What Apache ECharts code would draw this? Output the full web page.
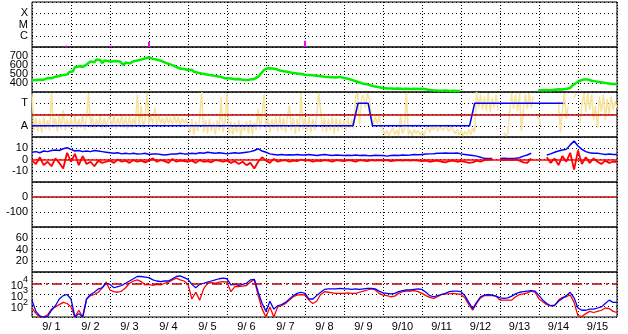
<!DOCTYPE html>
<html><head><meta charset="utf-8">
<script src="https://cdn.jsdelivr.net/npm/echarts@6/dist/echarts.min.js"></script>
<style>html,body{margin:0;padding:0;background:#fff}#c{width:628px;height:334px}</style>
</head><body><div id="c"></div><script>
// ---------- DATA (time in days from 9/1 00:00) ----------
const dayLabels = ['9/ 1','9/ 2','9/ 3','9/ 4','9/ 5','9/ 6','9/ 7','9/ 8','9/ 9','9/10','9/11','9/12','9/13','9/14','9/15'];
const flareLevelLabels = ['', 'C', 'M', 'X', ''];
const sectorLabels = ['', 'A', '', 'T', ''];
const speedLabels = [400, 500, 600, 700];
const bLabels = [10, 0, -10];
const dstLabels = [0, -100];
const kpLabels = [20, 40, 60];
const fluxExpLabels = [2, 3, 4];

const flares = [[0.88,0.12],[2.02,0.12],[3.0,0.45],[7.0,0.56]];

const speed = [
[0.00,430],[0.05,425],[0.10,432],[0.15,428],[0.20,435],[0.25,440],[0.30,437],[0.35,445],[0.40,455],[0.45,458],
[0.50,452],[0.55,462],[0.60,470],[0.65,465],[0.70,478],[0.75,470],[0.80,490],[0.85,500],[0.90,495],[0.95,520],
[1.00,540],[1.05,530],[1.10,575],[1.15,595],[1.20,585],[1.25,600],[1.30,580],[1.35,590],[1.40,605],[1.45,620],
[1.50,640],[1.55,655],[1.60,630],[1.65,660],[1.70,640],[1.75,655],[1.80,620],[1.85,650],[1.90,640],[1.95,645],
[2.00,635],[2.05,640],[2.10,632],[2.15,645],[2.20,625],[2.25,640],[2.30,630],[2.35,600],[2.40,628],[2.45,620],
[2.50,618],[2.55,630],[2.60,640],[2.65,645],[2.70,650],[2.75,655],[2.80,660],[2.85,668],[2.90,672],[2.95,680],
[3.00,684],[3.05,675],[3.10,668],[3.15,665],[3.20,660],[3.25,655],[3.30,648],[3.35,640],[3.40,630],[3.45,622],
[3.50,612],[3.55,605],[3.60,598],[3.65,590],[3.70,578],[3.75,570],[3.80,560],[3.85,575],[3.90,555],[3.95,548],
[4.00,544],[4.05,538],[4.10,548],[4.15,525],[4.20,520],[4.25,515],[4.30,510],[4.35,505],[4.40,500],[4.45,498],
[4.50,495],[4.55,490],[4.60,488],[4.65,482],[4.70,478],[4.75,476],[4.80,470],[4.85,468],[4.90,460],[4.95,452],
[5.00,458],[5.10,450],[5.20,442],[5.30,445],[5.40,435],[5.50,432],[5.60,438],[5.70,445],[5.75,452],[5.80,470],
[5.85,490],[5.90,520],[5.95,545],[6.00,560],[6.05,565],[6.10,558],[6.15,560],[6.20,552],[6.25,555],[6.30,545],
[6.35,540],[6.40,535],[6.50,528],[6.60,520],[6.70,510],[6.80,505],[6.90,500],[7.00,492],[7.10,490],[7.20,485],
[7.30,480],[7.40,475],[7.50,470],[7.60,468],[7.70,465],[7.80,462],[7.90,468],[8.00,455],[8.10,448],[8.20,435],
[8.30,420],[8.40,405],[8.50,392],[8.60,385],[8.70,372],[8.80,360],[8.90,352],[9.00,345],[9.10,340],[9.20,338],
[9.30,335],[9.40,340],[9.50,333],[9.60,335],[9.70,332],[9.80,336],[9.90,334],[10.00,335],[10.10,330],[10.20,322],
[10.30,318],[10.40,316],[10.50,315],[10.60,318],[10.70,312],[10.80,314],[10.90,312],[10.98,313],[11.5,null],
[12.98,318],[13.00,325],[13.05,320],[13.10,318],[13.20,322],[13.30,320],[13.40,325],[13.50,330],[13.60,328],
[13.70,335],[13.80,345],[13.85,370],[13.90,385],[13.95,400],[14.00,415],[14.05,425],[14.10,430],[14.15,440],
[14.20,445],[14.25,440],[14.30,430],[14.35,425],[14.40,420],[14.45,418],[14.50,415],[14.55,410],[14.60,405],
[14.70,400],[14.80,395],[14.90,390],[15.00,388]];

const sectorStep = 0.05;
const sectorNoise = [
3.8,0.6,1.7,0.5,1.6,0.4,1.8,0.7,1.5,0.6,3.9,0.8,1.7,0.5,1.9,0.7,2.4,0.6,1.6,0.8,
1.7,0.6,1.9,0.7,1.6,0.8,2.0,0.6,1.7,3.9,0.8,1.8,0.7,1.6,0.9,1.9,0.7,1.7,0.8,1.6,
1.8,0.8,1.9,0.7,1.7,0.9,2.0,0.8,1.8,0.7,1.9,0.8,1.7,0.9,3.8,1.0,2.8,0.8,1.7,3.9,
1.1,1.8,1.2,2.6,1.1,1.9,1.2,1.7,1.0,1.8,1.2,1.7,1.1,1.9,1.2,1.8,1.0,1.7,1.2,1.6,
1.5,0.4,1.6,0.2,1.4,0.5,1.7,4.0,0.4,1.5,0.3,1.6,0.5,1.3,0.2,1.5,0.6,3.5,0.4,1.4,
3.9,0.3,1.4,0.2,1.3,0.4,1.5,0.1,1.2,0.5,1.4,0.3,1.5,0.2,1.3,0.6,2.5,0.7,1.9,3.8,
0.6,1.7,0.4,1.6,0.7,1.8,0.5,1.9,0.6,1.7,0.4,1.8,2.8,0.6,1.7,0.3,1.6,0.5,3.9,0.7,
1.7,0.5,1.8,0.4,1.6,0.6,1.9,3.9,2.4,0.5,1.7,0.4,1.6,0.6,1.8,0.3,1.7,0.5,1.6,0.7,
1.5,0.6,1.7,0.8,1.6,0.7,3.6,3.9,1.0,3.5,3.7,2.6,3.9,3.4,1.9,1.0,1.8,1.2,1.9,1.0,
0.7,0.2,0.6,0.1,0.5,0.8,0.2,0.6,0.1,2.0,0.3,0.7,3.9,0.2,0.6,0.1,0.7,0.3,0.6,0.2,
0.5,0.1,0.7,0.9,0.4,1.0,0.6,1.1,0.5,0.9,1.0,0.6,1.1,0.7,0.5,1.0,0.6,0.3,0.7,0.2,
0.6,0.1,0.5,0.2,0.7,0.2,0.8,0.4,4.0,2.6,3.8,2.4,3.6,2.3,3.9,2.2,3.5,2.6,3.8,2.4,
null,null,0.4,0.1,0.3,2.4,3.9,2.5,3.8,2.3,3.9,0.5,2.4,3.8,2.5,3.9,2.6,3.6,null,1.8,
1.6,1.0,null,null,null,null,null,null,null,null,3.2,0.4,2.5,3.9,1.6,2.8,null,null,3.5,3.9,
null,1.2,3.0,3.9,2.2,3.9,2.4,3.8,1.5,2.8,0.8,3.6,2.2,3.8,1.5,3.4,2.0,3.6,2.4,3.2,
2.6];
const sectorLevel = [[0,1],[8.23,1],[8.36,3],[8.62,3],[8.73,1],[11.22,1],[11.35,3],[13.62,3]];
const sectorRef = 2;

const bStep = 0.1;
const bt = [
6.5,7.0,6.0,7.5,7.0,8.0,8.5,8.0,9.5,10.5,
9.0,7.5,8.0,7.0,7.5,7.0,8.0,7.5,7.0,6.5,
6.0,5.5,6.0,5.0,5.5,5.0,5.5,4.8,5.0,5.5,
4.5,4.8,5.0,4.5,4.0,4.5,5.0,4.8,5.5,5.0,
5.0,5.5,5.2,6.0,5.5,6.5,6.0,5.5,6.0,5.5,
5.0,5.5,6.0,5.5,6.0,6.5,7.0,8.0,9.5,7.5,
6.5,5.0,4.5,4.0,4.5,4.0,4.2,4.0,4.5,4.0,
4.0,4.5,4.0,3.5,4.0,4.5,4.0,3.5,4.0,3.8,
3.5,3.8,3.5,4.0,3.5,3.8,3.5,3.4,3.8,3.5,
3.5,3.0,3.5,3.8,3.5,4.0,3.8,4.0,4.5,4.2,
4.5,4.8,5.0,5.2,5.5,5.5,5.8,5.5,5.5,5.8,
5.0,4.5,4.0,3.5,3.0,2.0,1.0,0.8,1.0,null,
1.0,1.2,0.8,1.0,1.2,1.5,3.0,4.0,5.5,null,
null,null,4.0,5.0,6.5,7.5,8.5,9.0,13.0,16.5,
12.0,9.0,7.0,6.0,5.5,5.5,5.0,4.5,4.8,4.5,
4.5];
const bz = [
-1,-4,2,-5,-2,-6,1,-3,-8,6,
-2,5,-5,3,-4,-2,-6,-1,-3,-2,
-1,-3,0,-2,-1,-3,-0.5,-2,-1,-2.5,
-1,1,-2,-0.5,-1.5,-3,0.5,-2,-1,-1.5,
-2,-1,-3,-0.5,-2,-1.5,-2.5,-0.5,-1,-2,
-1,-3,-1.5,-4,-2,-5,-3,-8,-2,2,
-1,-3,0.5,-2,-1,-0.5,-2,-1,-1.5,0,
-1,-0.5,-2,-1,-1.5,-0.5,-1,-2,-0.5,-1,
-1.5,-0.5,-1,-2,-0.5,-1,-1.5,-0.5,-1,-0.5,
-1,-0.5,-1.5,-1,-0.5,-1,-0.5,-1,-0.5,-1,
-1.5,-1,-2,-1.5,-1,-2,-2.5,-1.5,-1,-2,
-1.5,-2,-3,-2.5,-1,-2,-0.5,0,0,null,
0,-0.5,0,-0.5,0,-1,-2.5,-3,1,null,
null,null,2,-3,1,-5,3,-2,6,-9,
8,-4,2,-3,1,-2,-4,-1,-3,-2,
-2];
const dstRef = 0;

const fluxStep = 0.1; // values are log10 of flux
const fluxBlue = [
2.5,1.5,1.1,1.0,1.05,1.6,2.0,2.6,2.9,3.0,
2.6,1.0,1.3,1.0,2.6,3.0,3.2,3.5,3.6,4.0,
3.9,3.6,3.7,3.8,4.0,4.2,4.4,4.6,4.6,4.55,
4.5,4.3,4.2,4.15,4.2,4.2,4.4,4.6,4.65,4.5,
4.35,3.9,3.6,3.9,4.0,4.1,4.2,4.3,4.4,4.45,
4.4,3.85,3.9,3.8,3.9,4.0,4.3,4.35,3.2,2.2,
1.5,2.4,1.7,2.0,2.1,2.3,2.6,2.9,3.1,3.2,
3.1,2.6,2.6,2.9,3.2,3.45,3.5,3.5,3.5,3.55,
3.5,3.5,3.45,3.5,3.45,3.5,3.55,3.55,3.5,3.3,
3.15,3.1,3.05,3.1,3.25,3.35,3.4,3.4,3.45,3.5,
3.45,3.2,2.9,2.8,2.9,3.0,3.1,3.25,3.3,3.3,
3.25,2.9,2.3,1.75,2.3,2.8,2.95,3.0,2.95,2.85,
2.7,2.65,2.7,2.85,3.05,3.2,3.25,3.3,3.35,3.3,
2.9,2.5,2.2,2.0,2.05,2.4,2.65,2.9,3.2,2.7,
1.8,1.6,1.6,1.7,1.7,1.8,1.9,2.2,2.5,2.3,
2.3];
const fluxRed = [
1.8,1.3,1.0,1.0,1.2,1.7,1.9,2.1,2.3,2.2,
1.9,1.0,1.6,1.0,2.6,2.9,3.0,3.2,3.6,4.1,
3.4,3.25,3.2,3.3,3.6,4.0,4.2,4.3,4.15,3.85,
3.9,3.8,3.9,3.85,4.0,4.1,4.3,4.45,4.3,4.2,
3.9,2.6,3.2,2.5,3.5,4.0,4.05,4.0,4.1,4.15,
4.1,3.25,3.7,3.7,3.75,3.8,4.1,4.35,2.9,1.7,
1.0,1.9,1.0,1.9,2.0,2.2,2.5,2.8,2.95,3.0,
2.95,2.5,2.2,2.4,3.0,3.25,3.2,3.15,3.1,3.1,
3.1,3.15,3.1,3.1,3.2,3.3,3.4,3.5,3.4,3.1,
2.95,2.9,2.8,2.85,3.1,3.25,3.3,3.3,3.35,3.25,
3.1,2.9,2.75,2.65,2.8,3.0,3.05,3.05,3.1,3.05,
3.0,2.7,2.1,1.6,2.2,2.7,2.9,2.9,2.9,2.85,
2.5,2.5,2.5,2.5,2.8,3.0,3.05,3.15,3.3,3.2,
2.6,2.35,2.1,2.0,2.0,2.5,2.75,2.8,2.96,2.3,
1.1,1.05,1.3,1.5,1.4,1.5,1.6,1.8,1.75,1.5,
1.4];
const fluxRef = 4;

// ---------- LAYOUT ----------
const LEFT = 32, RIGHT = 11, TOP0 = 2, PH = 45, NP = 7;
const FONT = '"Liberation Sans", Arial, sans-serif';
const series = (arr, step) => arr.map((v, i) => [i * step, v]);

const grids = [];
const xAxes = [];
for (let i = 0; i < NP; i++) {
  grids.push({left: LEFT, right: RIGHT, top: TOP0 + PH * i, height: PH, show: true,
    borderColor: '#000', borderWidth: 1, backgroundColor: 'transparent'});
  xAxes.push({type: 'value', gridIndex: i, min: 0, max: 15, interval: 1, position: 'bottom',
    axisLine: {show: false}, axisTick: {show: false}, axisLabel: {show: false},
    splitLine: {show: true, lineStyle: {color: '#000', type: [1, 2], width: 1}}});
}
xAxes.push({type: 'category', gridIndex: NP - 1, data: dayLabels, boundaryGap: true, position: 'bottom',
  axisLine: {show: false}, axisTick: {show: false}, splitLine: {show: false},
  axisLabel: {interval: 0, margin: 4, fontSize: 11, color: '#000', fontFamily: FONT}});

const dotH = {show: true, lineStyle: {color: '#000', type: [1, 3], width: 1}};
function yAx(i, min, max, interval, fmt, extra) {
  return Object.assign({type: 'value', gridIndex: i, min, max, interval,
    axisLine: {show: false}, axisTick: {show: false}, splitLine: dotH,
    axisLabel: {fontSize: 11, color: '#000', margin: 4, fontFamily: FONT, formatter: fmt,
      showMinLabel: true, showMaxLabel: true}}, extra || {});
}
const yAxes = [
  yAx(0, 0, 4, 1, v => flareLevelLabels[v] || ''),
  yAx(1, 300, 800, 100, v => speedLabels.includes(v) ? String(v) : ''),
  yAx(2, 0, 4, 1, v => sectorLabels[v] || ''),
  yAx(3, -20, 20, 10, v => bLabels.includes(v) ? String(v) : ''),
  yAx(4, -200, 100, 100, v => dstLabels.includes(v) ? String(v) : ''),
  yAx(5, 0, 80, 20, v => kpLabels.includes(v) ? String(v) : ''),
  yAx(6, 1, 5, 1, v => fluxExpLabels.includes(v) ? '{b|10}{s|' + v + '}' : '')
];
yAxes[6].axisLabel.rich = {
  b: {fontSize: 11, color: '#000', fontFamily: FONT, verticalAlign: 'bottom', lineHeight: 16},
  s: {fontSize: 9, color: '#000', fontFamily: FONT, verticalAlign: 'top', lineHeight: 16}
};

const ref = (y, color, width, type) => ({silent: true, symbol: 'none', label: {show: false},
  lineStyle: {color, width, type: type || 'solid'}, data: [{yAxis: y}]});

const option = {
  animation: false,
  backgroundColor: '#fff',
  grid: grids, xAxis: xAxes, yAxis: yAxes,
  series: [
    {type: 'bar', xAxisIndex: 0, yAxisIndex: 0, data: flares, barWidth: 2,
      itemStyle: {color: '#ff00ff'}},
    {type: 'line', xAxisIndex: 1, yAxisIndex: 1, data: speed, showSymbol: false,
      lineStyle: {color: '#00ee00', width: 2.5}, connectNulls: false},
    {type: 'line', xAxisIndex: 2, yAxisIndex: 2, data: series(sectorNoise, sectorStep), showSymbol: false,
      lineStyle: {color: '#f7e39a', width: 1.5}, connectNulls: false,
      markLine: ref(sectorRef, '#c00000', 1.5)},
    {type: 'line', xAxisIndex: 2, yAxisIndex: 2, data: sectorLevel, showSymbol: false,
      lineStyle: {color: '#0000ff', width: 1.5}},
    {type: 'line', xAxisIndex: 3, yAxisIndex: 3, data: series(bt, bStep), showSymbol: false,
      lineStyle: {color: '#0000ff', width: 1.5}},
    {type: 'line', xAxisIndex: 3, yAxisIndex: 3, data: series(bz, bStep), showSymbol: false,
      lineStyle: {color: '#ff0000', width: 1.8}, markLine: ref(0, '#ff0000', 1.5)},
    {type: 'line', xAxisIndex: 4, yAxisIndex: 4, data: [], showSymbol: false,
      markLine: ref(dstRef, '#c00000', 1.5)},
    {type: 'line', xAxisIndex: 6, yAxisIndex: 6, data: series(fluxRed, fluxStep), showSymbol: false,
      lineStyle: {color: '#ff0000', width: 1.3}, markLine: ref(fluxRef, '#c00000', 1.5, [10, 4, 2, 4])},
    {type: 'line', xAxisIndex: 6, yAxisIndex: 6, data: series(fluxBlue, fluxStep), showSymbol: false,
      lineStyle: {color: '#0000ff', width: 1.3}}
  ]
};
const chart = echarts.init(document.getElementById('c'), null, {renderer: 'canvas'});
chart.setOption(option);
</script></body></html>
